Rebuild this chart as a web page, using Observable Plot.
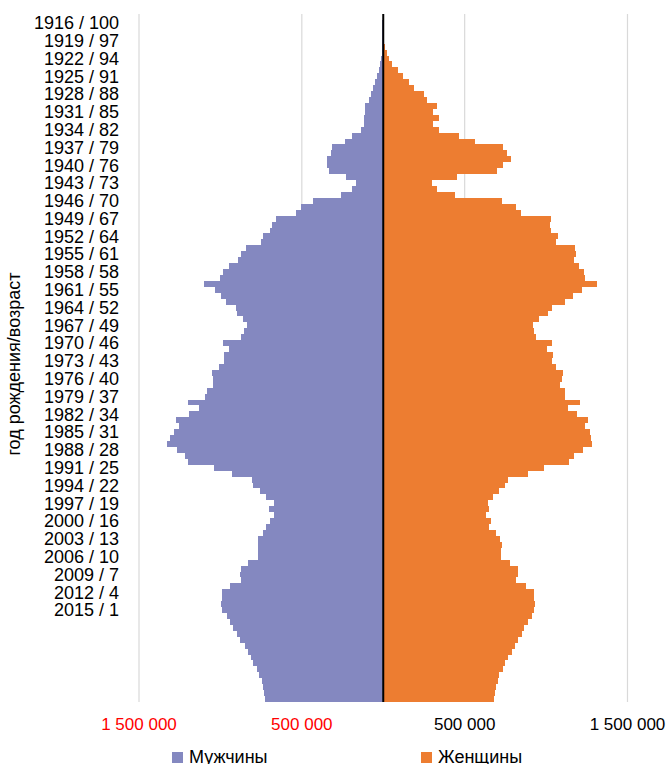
<!DOCTYPE html>
<html><head><meta charset="utf-8">
<script src="https://cdn.jsdelivr.net/npm/d3@7"></script>
<script src="https://cdn.jsdelivr.net/npm/@observablehq/plot@0.6"></script>
<style>
body{margin:0;background:#fff;font-family:'Liberation Sans',Arial,sans-serif;}
#wrap{position:relative;width:666px;height:764px;overflow:hidden;}
#wrap svg{display:block;}
.legend{position:absolute;top:745px;left:0;width:666px;height:19px;}
.sw{position:absolute;top:7px;width:11px;height:11px;}
.lt{position:absolute;top:3px;font-size:18px;line-height:18px;color:#000;white-space:nowrap;}
</style></head><body><div id="wrap"></div>
<script>
const years = [
1915,1916,1917,1918,1919,1920,1921,1922,1923,1924,
1925,1926,1927,1928,1929,1930,1931,1932,1933,1934,
1935,1936,1937,1938,1939,1940,1941,1942,1943,1944,
1945,1946,1947,1948,1949,1950,1951,1952,1953,1954,
1955,1956,1957,1958,1959,1960,1961,1962,1963,1964,
1965,1966,1967,1968,1969,1970,1971,1972,1973,1974,
1975,1976,1977,1978,1979,1980,1981,1982,1983,1984,
1985,1986,1987,1988,1989,1990,1991,1992,1993,1994,
1995,1996,1997,1998,1999,2000,2001,2002,2003,2004,
2005,2006,2007,2008,2009,2010,2011,2012,2013,2014,
2015,2016,2017,2018,2019,2020,2021,2022,2023,2024,
2025,2026,2027,2028,2029,2030];
const tickYears = [1916,1919,1922,1925,1928,1931,1934,1937,1940,1943,1946,1949,1952,1955,1958,1961,1964,1967,1970,1973,1976,1979,1982,1985,1988,1991,1994,1997,2000,2003,2006,2009,2012,2015];
const tickLabels = ["1916 / 100","1919 / 97","1922 / 94","1925 / 91","1928 / 88","1931 / 85","1934 / 82","1937 / 79","1940 / 76","1943 / 73","1946 / 70","1949 / 67","1952 / 64","1955 / 61","1958 / 58","1961 / 55","1964 / 52","1967 / 49","1970 / 46","1973 / 43","1976 / 40","1979 / 37","1982 / 34","1985 / 31","1988 / 28","1991 / 25","1994 / 22","1997 / 19","2000 / 16","2003 / 13","2006 / 10","2009 / 7","2012 / 4","2015 / 1"];
const men = [
1000,2000,2000,3000,4000,6000,7000,9000,14000,24000,
33000,45000,59000,72000,84000,109000,106000,118000,117000,131000,
186000,229000,309000,319000,342000,342000,331000,225000,166000,186000,
258000,429000,503000,532000,658000,679000,693000,734000,747000,842000,
873000,888000,943000,980000,1000000,1098000,1029000,992000,963000,904000,
898000,857000,836000,855000,873000,980000,945000,975000,977000,1004000,
1047000,1045000,1041000,1078000,1092000,1194000,1129000,1188000,1270000,1250000,
1280000,1307000,1323000,1266000,1217000,1198000,1036000,926000,805000,796000,
755000,714000,669000,697000,669000,693000,714000,738000,765000,769000,
765000,765000,830000,873000,877000,873000,939000,986000,986000,994000,
986000,959000,939000,918000,898000,877000,847000,826000,812000,796000,
775000,761000,744000,734000,728000,724000];
const women = [
5000,2000,3000,4000,6000,14000,27000,37000,59000,92000,
123000,160000,194000,252000,270000,331000,311000,348000,307000,348000,
470000,566000,738000,765000,789000,738000,699000,454000,303000,333000,
446000,732000,818000,847000,1033000,1029000,1033000,1074000,1067000,1182000,
1186000,1176000,1207000,1237000,1241000,1315000,1223000,1170000,1119000,1039000,
1012000,957000,924000,930000,941000,1037000,1006000,1043000,1037000,1067000,
1110000,1100000,1090000,1121000,1121000,1211000,1135000,1192000,1262000,1241000,
1272000,1278000,1284000,1227000,1172000,1141000,990000,895000,767000,751000,
716000,679000,644000,654000,634000,665000,654000,695000,720000,730000,
726000,726000,783000,828000,828000,820000,879000,928000,930000,935000,
926000,914000,890000,869000,853000,832000,812000,791000,771000,753000,
736000,716000,706000,695000,689000,685000];
const xTicksNeg = [-1500000,-500000];
const xTicksPos = [500000,1500000];
const series = ["Мужчины","Женщины"];
const colors = ["#8488c0","#ed7d31"];
const yTitle = "год рождения/возраст";

const rows = years.map((y,i)=>({year:y, men:men[i], women:women[i]}));
const labelOf = new Map(tickYears.map((y,i)=>[y,tickLabels[i]]));
const fmt = v => d3.format(",")(Math.abs(v)).replace(/,/g," ");

const chart = Plot.plot({
  width:666, height:745, marginLeft:138.5, marginRight:39, marginTop:14, marginBottom:43,
  style:{fontFamily:"'Liberation Sans', Arial, sans-serif", background:"white", color:"#000"},
  x:{domain:[-1500000,1500000]},
  y:{domain:years, padding:0, round:false},
  marks:[
    Plot.ruleX([...xTicksNeg,...xTicksPos],{stroke:"#d9d9d9", strokeWidth:1.2}),
    Plot.barX(rows,{x:d=>-d.men, y:"year", fill:colors[0], shapeRendering:"crispEdges"}),
    Plot.barX(rows,{x:"women", y:"year", fill:colors[1], shapeRendering:"crispEdges"}),
    Plot.ruleX([0],{stroke:"#000", strokeWidth:2}),
    Plot.axisY(tickYears,{tickSize:0, tickPadding:20, tickFormat:d=>labelOf.get(d), fontSize:18, fill:"#000", label:null}),
    Plot.axisX(xTicksNeg,{tickSize:0, tickPadding:15, tickFormat:fmt, fontSize:17, color:"#ff0000", label:null}),
    Plot.axisX(xTicksPos,{tickSize:0, tickPadding:15, tickFormat:fmt, fontSize:17, color:"#000", label:null})
  ]
});
d3.select(chart).append("text")
  .attr("transform","translate(19.5,364) rotate(-90)")
  .attr("text-anchor","middle")
  .attr("font-size",18)
  .attr("fill","#000")
  .text(yTitle);

const wrap = document.getElementById("wrap");
wrap.appendChild(chart);
const leg = document.createElement("div");
leg.className = "legend";
const pos = [[172,189],[421,438]];
series.forEach((s,i)=>{
  const sw = document.createElement("div");
  sw.className="sw"; sw.style.left=pos[i][0]+"px"; sw.style.background=colors[i];
  const t = document.createElement("div");
  t.className="lt"; t.style.left=pos[i][1]+"px"; t.textContent=s;
  leg.appendChild(sw); leg.appendChild(t);
});
wrap.appendChild(leg);
</script></body></html>
